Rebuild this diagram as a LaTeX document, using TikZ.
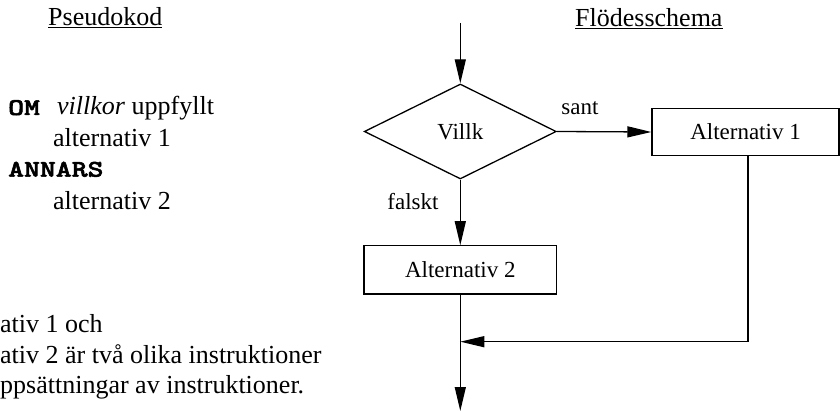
\documentclass[tikz,border=0pt]{standalone}
\usepackage{fontspec}
\setmainfont{Liberation Serif}
\newfontfamily\kwfont{Latin Modern Mono Light}[FakeBold=2]
\usetikzlibrary{shapes.geometric,arrows.meta}
\newcommand{\kwtext}[1]{\scalebox{1.26}[1]{\kwfont\bfseries #1}}
\begin{document}
\begin{tikzpicture}[x=1pt,y=-1pt,
  lbl/.style={inner sep=0pt,anchor=base west,font=\fontsize{26}{30}\selectfont},
  kw/.style={inner sep=0pt,anchor=base west,font=\fontsize{24}{28}\selectfont},
  dlbl/.style={inner sep=0pt,font=\fontsize{23}{27}\selectfont},
  boxnode/.style={draw,line width=1.3pt,inner sep=0pt,font=\fontsize{23}{27}\selectfont},
  decision/.style={draw,diamond,line width=1.3pt,inner sep=0pt,aspect=2,font=\fontsize{23}{27}\selectfont},
  arr/.style={line width=1.3pt,-{Triangle[length=24pt,width=11pt]}}]
\useasboundingbox (0,0) rectangle (840,411);
% left column
\node[lbl] (ph) at (48,26) {\underline{Pseudokod}};
\node[kw] (om) at (8,115) {\kwtext{OM}};
\node[lbl] (cond) at (57,115) {\textit{villkor} uppfyllt};
\node[lbl] (a1) at (53,146.7) {alternativ 1};
\node[kw] (ann) at (8,176.7) {\kwtext{ANNARS}};
\node[lbl] (a2) at (53,210) {alternativ 2};
\node[lbl] (t1) at (0,333) {ativ 1 och};
\node[lbl] (t2) at (0,363) {ativ 2 är två olika instruktioner};
\node[lbl] (t3) at (0,393) {ppsättningar av instruktioner.};
% right column
\node[lbl] (fh) at (575,26.7) {\underline{Flödesschema}};
\node[decision,minimum width=192pt,minimum height=95pt] (d) at (460.3,131.5) {Villk};
\node[boxnode,minimum width=187pt,minimum height=47.5pt] (b1) at (745.5,132) {Alternativ 1};
\node[boxnode,minimum width=192.5pt,minimum height=48.3pt] (b2) at (460.3,270) {Alternativ 2};
\node[dlbl] (sant) at (580,108) {sant};
\node[dlbl] (falskt) at (413,202) {falskt};
\coordinate (top) at (460.3,23);
\coordinate (mg) at (460.3,341.7);
\coordinate (end) at (460.3,411);
\draw[arr] (top) -- (d.north);
\draw[arr] (d.east) -- (b1.west);
\draw[arr] (d.south) -- (b2.north);
\draw[arr] ([xshift=2.5pt]b1.south) |- (mg);
\draw[arr] (b2.south) -- (end);
\end{tikzpicture}
\end{document}
